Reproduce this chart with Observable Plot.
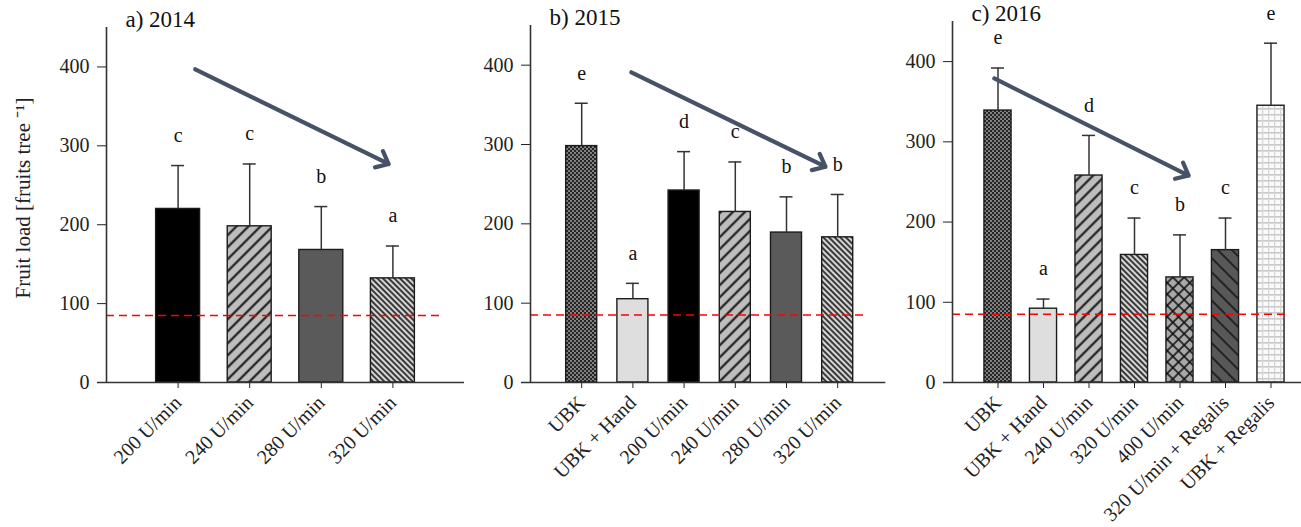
<!DOCTYPE html>
<html>
<head>
<meta charset="utf-8">
<script src="https://cdn.jsdelivr.net/npm/d3@7"></script>
<script src="https://cdn.jsdelivr.net/npm/@observablehq/plot@0.6"></script>
<style>
  html, body { margin: 0; padding: 0; background: #fff; overflow: hidden; }
  #wrap { position: relative; width: 1301px; height: 527px; overflow: hidden; background: #fff; }
  .panel { position: absolute; top: 0; height: 527px; }
  .panel svg { max-width: none !important; }
</style>
</head>
<body>
<svg width="0" height="0" style="position:absolute">
  <defs>
    <pattern id="p-fwd" patternUnits="userSpaceOnUse" width="8.5" height="8.5" patternTransform="rotate(45)">
      <rect width="8.5" height="8.5" fill="#bdbdbd"/>
      <line x1="4.25" y1="0" x2="4.25" y2="8.5" stroke="#1a1a1a" stroke-width="2.1"/>
    </pattern>
    <pattern id="p-backdense" patternUnits="userSpaceOnUse" width="4" height="4" patternTransform="rotate(-45)">
      <rect width="4" height="4" fill="#d6d6d6"/>
      <line x1="2" y1="0" x2="2" y2="4" stroke="#1e1e1e" stroke-width="1.7"/>
    </pattern>
    <pattern id="p-cross" patternUnits="userSpaceOnUse" width="8" height="8" patternTransform="rotate(45)">
      <rect width="8" height="8" fill="#a8a8a8"/>
      <line x1="4" y1="0" x2="4" y2="8" stroke="#111" stroke-width="1.6"/>
      <line x1="0" y1="4" x2="8" y2="4" stroke="#111" stroke-width="1.6"/>
    </pattern>
    <pattern id="p-darkback" patternUnits="userSpaceOnUse" width="10" height="10" patternTransform="rotate(-45)">
      <rect width="10" height="10" fill="#585858"/>
      <line x1="5" y1="0" x2="5" y2="10" stroke="#111" stroke-width="1.5"/>
    </pattern>
    <pattern id="p-checker" patternUnits="userSpaceOnUse" width="4" height="4">
      <rect width="4" height="4" fill="#242424"/>
      <circle cx="1" cy="1" r="1.05" fill="#8e8e8e"/>
      <circle cx="3" cy="3" r="1.05" fill="#8e8e8e"/>
    </pattern>
    <pattern id="p-grid" patternUnits="userSpaceOnUse" width="6" height="6">
      <rect width="6" height="6" fill="#fafafa"/>
      <rect x="0" y="0" width="6" height="1.6" fill="#c9c9c9"/>
      <rect x="0" y="0" width="1.2" height="6" fill="#d4d4d4"/>
    </pattern>
  </defs>
</svg>
<div id="wrap">
  <div class="panel" id="pa" style="left:0px; width:470px"></div>
  <div class="panel" id="pb" style="left:470px; width:420px"></div>
  <div class="panel" id="pc" style="left:890px; width:430px"></div>
</div>
<script>
// ---------- data ----------
const cats2014 = ["200 U/min", "240 U/min", "280 U/min", "320 U/min"];
const mean2014 = [220, 198, 168, 132];
const sd2014 = [55, 79, 55, 41];
const letters2014 = ["c", "c", "b", "a"];

const cats2015 = ["UBK", "UBK + Hand", "200 U/min", "240 U/min", "280 U/min", "320 U/min"];
const mean2015 = [298, 105, 242, 215, 189, 183];
const sd2015 = [54, 20, 49, 63, 45, 54];
const letters2015 = ["e", "a", "d", "c", "b", "b"];

const cats2016 = ["UBK", "UBK + Hand", "240 U/min", "320 U/min", "400 U/min", "320 U/min + Regalis", "UBK + Regalis"];
const mean2016 = [339, 92, 258, 159, 131, 165, 345];
const sd2016 = [53, 12, 50, 46, 53, 40, 78];
const letters2016 = ["e", "a", "d", "c", "b", "c", "e"];

const threshold = 85;
const yTicks = [0, 100, 200, 300, 400];
const titles = ["a) 2014", "b) 2015", "c) 2016"];
const yLabel = "Fruit load [fruits tree \u207B\u00B9]";
// trend arrows (category index, value)
const arrow2014 = {x1: 1.24, y1: 397, x2: 3.94, y2: 277};
const arrow2015 = {x1: 1.97, y1: 391, x2: 5.76, y2: 272};
const arrow2016 = {x1: 0.92, y1: 379, x2: 5.19, y2: 258};

// ---------- styles ----------
const patternOf = {
  "200 U/min": "#000000",
  "240 U/min": "url(#p-fwd)",
  "280 U/min": "#5a5a5a",
  "320 U/min": "url(#p-backdense)",
  "400 U/min": "url(#p-cross)",
  "UBK": "url(#p-checker)",
  "UBK + Hand": "#dedede",
  "320 U/min + Regalis": "url(#p-darkback)",
  "UBK + Regalis": "url(#p-grid)"
};
const font = '"Liberation Serif", "Times New Roman", serif';
const axisColor = "#333";

function panel(cfg) {
  const {cats, mean, sd, letters, arrow, title, step, width, marginLeft, marginTop, halfBar, redEnd, axisEnd, showYLabel} = cfg;
  const n = cats.length;
  const rows = cats.map((c, i) => ({c, i: i + 1, m: mean[i], top: mean[i] + sd[i], l: letters[i]}));
  const capHalf = 6.5 / step;
  const marks = [
    Plot.rect(rows, {x1: d => d.i - halfBar, x2: d => d.i + halfBar, y1: 0, y2: "m",
      fill: d => patternOf[d.c], stroke: "#1c1c1c", strokeWidth: 1.4}),
    Plot.ruleY([threshold], {x1: 0, x2: redEnd, stroke: "#ff0000", strokeWidth: 1.6, strokeDasharray: "8,5"}),
    Plot.ruleX(rows, {x: "i", y1: "m", y2: "top", stroke: axisColor, strokeWidth: 1.5}),
    Plot.ruleY(rows, {y: "top", x1: d => d.i - capHalf, x2: d => d.i + capHalf, stroke: axisColor, strokeWidth: 1.5}),
    Plot.text(rows, {x: "i", y: "top", text: "l", dy: -30, fontSize: 20, fill: "#111"}),
    Plot.ruleX([0], {y1: 0, y2: 450, stroke: axisColor, strokeWidth: 1.6}),
    Plot.ruleY([0], {x1: -9 / step, x2: axisEnd, stroke: axisColor, strokeWidth: 1.6}),
    Plot.arrow([arrow], {x1: "x1", y1: "y1", x2: "x2", y2: "y2", stroke: "#465267", strokeWidth: 4.2,
      headLength: 5, headAngle: 80, strokeLinejoin: "miter"}),
    Plot.text([title], {frameAnchor: "top-left", dx: 19, dy: -17, fontSize: 23, textAnchor: "start", fill: "#111"})
  ];
  if (showYLabel) {
    marks.push(Plot.text([yLabel], {frameAnchor: "left", textAnchor: "middle", dx: -83, dy: -7, rotate: -90, fontSize: 21, fill: "#222"}));
  }
  return Plot.plot({
    width,
    height: 527,
    marginLeft,
    marginRight: width - marginLeft - (n + 1) * step,
    marginTop,
    marginBottom: 145,
    style: {fontFamily: font, fontSize: "20px", color: "#222", background: "transparent", overflow: "visible", maxWidth: "none"},
    color: {type: "identity"},
    x: {domain: [0, n + 1], ticks: d3.range(1, n + 1), tickFormat: i => cats[i - 1], tickRotate: -45,
        tickSize: 6, tickPadding: 11, label: null},
    y: {domain: [0, 450], ticks: yTicks, tickSize: 9, tickPadding: 8, label: null},
    marks
  });
}

document.getElementById("pa").appendChild(panel({
  cats: cats2014, mean: mean2014, sd: sd2014, letters: letters2014, arrow: arrow2014, title: titles[0],
  step: 71.6, width: 470, marginLeft: 106, marginTop: 27, halfBar: 0.307, redEnd: 4.7, axisEnd: 5.0, showYLabel: true
}));
document.getElementById("pb").appendChild(panel({
  cats: cats2015, mean: mean2015, sd: sd2015, letters: letters2015, arrow: arrow2015, title: titles[1],
  step: 51.2, width: 420, marginLeft: 60, marginTop: 25, halfBar: 0.303, redEnd: 6.54, axisEnd: 6.94
}));
document.getElementById("pc").appendChild(panel({
  cats: cats2016, mean: mean2016, sd: sd2016, letters: letters2016, arrow: arrow2016, title: titles[2],
  step: 45.5, width: 430, marginLeft: 62, marginTop: 21, halfBar: 0.298, redEnd: 7.36, axisEnd: 8.0
}));
</script>
</body>
</html>
